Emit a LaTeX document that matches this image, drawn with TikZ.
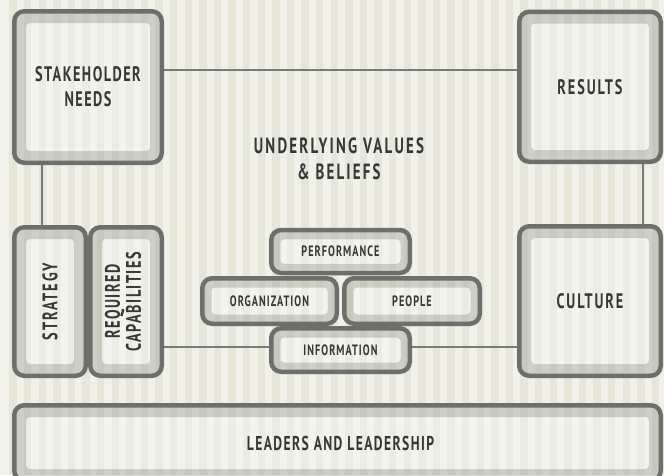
\documentclass[tikz,border=0pt]{standalone}
\usepackage{fontspec}
\setmainfont{PT Sans}[FakeStretch=0.68,LetterSpace=7]
\usetikzlibrary{calc}
\definecolor{bglight}{RGB}{241,241,233}
\definecolor{bgdark}{RGB}{230,231,217}
\definecolor{boxdark}{RGB}{110,111,106}
\definecolor{bandcol}{RGB}{148,149,142}
\definecolor{linecol}{RGB}{122,123,118}
\definecolor{txt}{RGB}{55,55,53}
\newcommand\bigtxt{\fontsize{21}{25}\selectfont\bfseries}
\newcommand\smalltxt{\fontsize{15}{18}\selectfont\bfseries}
\pgfdeclarelayer{bglayer}
\pgfdeclarelayer{connlayer}
\pgfsetlayers{bglayer,connlayer,main}
\begin{document}
\begin{tikzpicture}[x=1pt,y=-1pt,
  boxbase/.style={rectangle, rounded corners=10pt, inner sep=0pt, align=center,
    text=txt, fill=white, fill opacity=0, text opacity=1,
    postaction={draw=boxdark, draw opacity=1, line width=4.5pt}},
  bigbox/.style={boxbase, font=\bigtxt,
    path picture={
      \fill[bandcol, fill opacity=0.36, even odd rule]
        (path picture bounding box.south west) rectangle (path picture bounding box.north east)
        [rounded corners=4pt]
        ([shift={(11.75pt,11.75pt)}]path picture bounding box.south west) rectangle
        ([shift={(-11.75pt,-11.75pt)}]path picture bounding box.north east);
      \fill[white, fill opacity=0.25, rounded corners=4pt]
        ([shift={(11.75pt,11.75pt)}]path picture bounding box.south west) rectangle
        ([shift={(-11.75pt,-11.75pt)}]path picture bounding box.north east);}},
  smallbox/.style={boxbase, font=\smalltxt,
    path picture={
      \fill[bandcol, fill opacity=0.36, even odd rule]
        (path picture bounding box.south west) rectangle (path picture bounding box.north east)
        [rounded corners=4pt]
        ([shift={(9.25pt,9.25pt)}]path picture bounding box.south west) rectangle
        ([shift={(-9.25pt,-9.25pt)}]path picture bounding box.north east);
      \fill[white, fill opacity=0.25, rounded corners=4pt]
        ([shift={(9.25pt,9.25pt)}]path picture bounding box.south west) rectangle
        ([shift={(-9.25pt,-9.25pt)}]path picture bounding box.north east);}},
  conn/.style={draw=linecol, line width=2pt},
  plain/.style={text=txt, align=center, inner sep=0pt}
]
\useasboundingbox (0,0) rectangle (664,475);
\begin{pgfonlayer}{bglayer}
  \fill[bglight] (0,0) rectangle (664,475);
  \foreach \k in {0,...,45}
    \fill[bgdark] ({9.4+14.6*\k},0) rectangle ({16.7+14.6*\k},475);
\end{pgfonlayer}

\node[bigbox, minimum width=147.5pt, minimum height=151.5pt] (stake) at (88,87) {STAKEHOLDER\\NEEDS};
\node[bigbox, minimum width=141.5pt, minimum height=150pt] (results) at (590,86.75) {\addfontfeature{LetterSpace=9}RESULTS};
\node[bigbox, minimum width=141.5pt, minimum height=149.5pt] (culture) at (590,301) {\addfontfeature{LetterSpace=9}CULTURE};
\node[bigbox, minimum width=71.5pt, minimum height=148.5pt] (strat) at (50,301.5) {\rotatebox{90}{\addfontfeature{LetterSpace=9}STRATEGY}};
\node[bigbox, minimum width=71.5pt, minimum height=148.5pt] (req) at (126,301.5)
  {\rotatebox{90}{\fontsize{21}{20.5}\selectfont\bfseries\begin{tabular}{@{}c@{}}REQUIRED\\CAPABILITIES\end{tabular}}};
\node[bigbox, minimum width=646.5pt, minimum height=75.5pt, font=\fontsize{20}{24}\selectfont\bfseries] (leaders) at (337.5,443) {\hspace*{6pt}LEADERS AND LEADERSHIP};

\node[smallbox, minimum width=138.5pt, minimum height=43pt] (perf) at (340.5,251.5) {PERFORMANCE};
\node[smallbox, minimum width=134.5pt, minimum height=45.5pt] (org) at (269.5,301) {ORGANIZATION};
\node[smallbox, minimum width=135.5pt, minimum height=45.5pt] (people) at (412,301) {PEOPLE};
\node[smallbox, minimum width=138.5pt, minimum height=43.5pt] (info) at (340.5,350) {INFORMATION};

\node[plain, font=\fontsize{22}{26.5}\selectfont\bfseries\addfontfeature{LetterSpace=10}] (values) at (339,159) {UNDERLYING VALUES\\\& BELIEFS};

\begin{pgfonlayer}{connlayer}
  \draw[conn] ([yshift=17pt]stake.east) -- ([yshift=17pt]stake.east -| results.west);
  \draw[conn] ([xshift=-8pt]strat.north) -- ([xshift=-8pt]strat.north |- stake.south);
  \draw[conn] ([xshift=53pt]results.south) -- ([xshift=53pt]results.south |- culture.north);
  \draw[conn] ([yshift=3pt]info.west) -- ([yshift=3pt]info.west -| req.east);
  \draw[conn] ([yshift=3pt]info.east) -- ([yshift=3pt]info.east -| culture.west);
\end{pgfonlayer}
\end{tikzpicture}
\end{document}
